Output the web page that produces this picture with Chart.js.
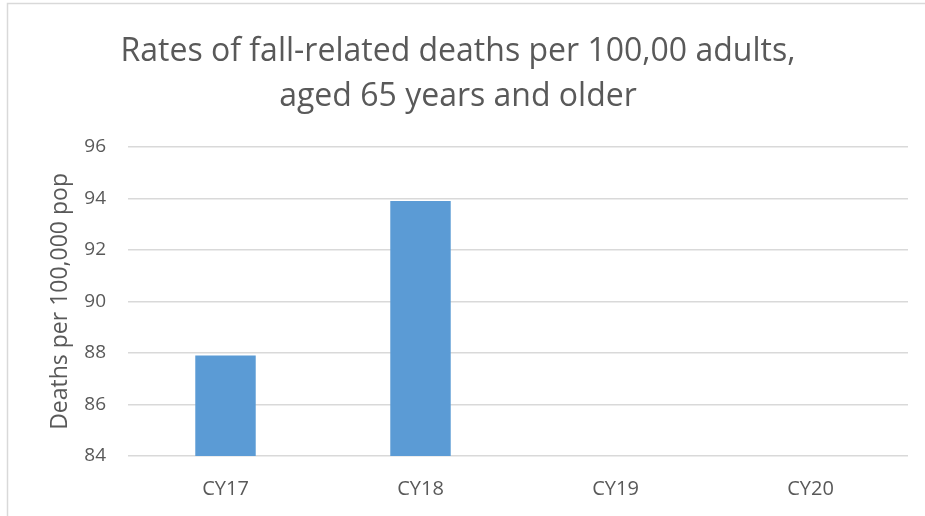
<!DOCTYPE html>
<html>
<head>
<meta charset="utf-8">
<script src="https://cdn.jsdelivr.net/npm/chart.js@4"></script>
<style>
  html, body { margin: 0; padding: 0; background: #fff; }
  #wrap { width: 925px; height: 516px; }
</style>
</head>
<body>
<div id="wrap"><canvas id="chart1"></canvas></div>
<script>
let categories = ["CY17", "CY18", "CY19", "CY20"];
let deathRates = [87.9, 93.9, null, null];
let yTicks = [84, 86, 88, 90, 92, 94, 96];

function chart1() {
  let ctx = document.getElementById('chart1').getContext("2d");
  let textColor = "#595959";
  let gridColor = "#d9d9d9";
  let myChart = new Chart(ctx, {
    type: "bar",
    data: {
      labels: categories,
      datasets: [{
        data: deathRates,
        backgroundColor: "#5b9bd5",
        borderWidth: 0,
        barPercentage: 0.31,
        categoryPercentage: 1
      }]
    },
    options: {
      responsive: true,
      maintainAspectRatio: false,
      animation: false,
      scales: {
        x: {
          grid: { display: false, drawTicks: false },
          border: { display: false },
          ticks: {
            color: textColor,
            padding: 21,
            font: { family: "Open Sans", size: 20 }
          },
          afterFit: (scale) => { scale.height = 60; }
        },
        y: {
          min: yTicks[0],
          max: yTicks[yTicks.length - 1],
          afterBuildTicks: (scale) => { scale.ticks = yTicks.map(v => ({ value: v })); },
          grid: { color: gridColor, lineWidth: 1.5, drawTicks: false },
          border: { display: false },
          ticks: {
            color: textColor,
            padding: 22,
            font: { family: "Open Sans", size: 19 }
          },
          title: {
            display: true,
            text: "Deaths per 100,000 pop",
            color: textColor,
            font: { family: "Open Sans", size: 23 },
            padding: { top: 39, bottom: 0 }
          },
          afterFit: (scale) => { scale.width = 120; }
        }
      },
      plugins: {
        legend: { display: false },
        tooltip: { enabled: false },
        title: {
          display: true,
          text: ["Rates of fall-related deaths per 100,00 adults,", "aged 65 years and older"],
          color: textColor,
          font: { family: "Open Sans", size: 32, weight: "normal", lineHeight: 1.42 },
          padding: { top: 29, bottom: 27 }
        }
      },
      layout: {
        padding: { left: 8, right: 17, top: 0, bottom: 0 }
      }
    },
    plugins: [{
      id: 'frame',
      beforeDraw: (chart) => {
        const c = chart.ctx;
        c.save();
        c.fillStyle = '#ffffff';
        c.fillRect(0, 0, chart.width, chart.height);
        c.strokeStyle = '#d9d9d9';
        c.lineWidth = 1.5;
        c.strokeRect(7.5, 3.5, chart.width + 20, chart.height + 20);
        c.restore();
      }
    }]
  });
}

chart1();
</script>
</body>
</html>
